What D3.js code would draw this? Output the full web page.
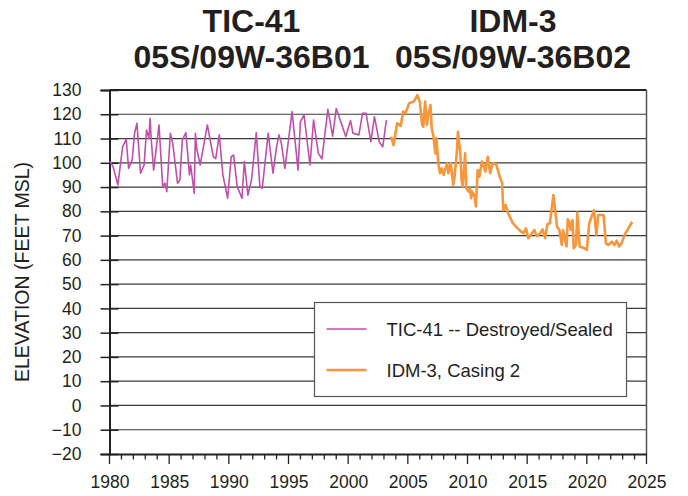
<!DOCTYPE html>
<html><head><meta charset="utf-8">
<script src="https://cdn.jsdelivr.net/npm/d3@7"></script>
<style>body{margin:0;background:#fff}svg{display:block}text{font-family:"Liberation Sans",Arial,sans-serif;fill:#231f20}</style>
</head><body><svg id="c" width="688" height="496"></svg>
<script>
const titles = [["TIC-41","05S/09W-36B01"],["IDM-3","05S/09W-36B02"]];
const seriesNames = ["TIC-41 -- Destroyed/Sealed","IDM-3, Casing 2"];
const seriesColors = ["#c04fa9","#f7963a"];
const yLabel = "ELEVATION (FEET MSL)";
const xTicks = [1980,1985,1990,1995,2000,2005,2010,2015,2020,2025];
const yTicks = d3.range(-20,131,10);

const ticYears = [1980.04,1980.3,1980.7,1981.1,1981.4,1981.6,1981.9,1982.1,1982.3,1982.6,1982.9,1983.1,1983.3,1983.4,1983.5,1983.7,1984.15,1984.46,1984.65,1984.8,1985.1,1985.3,1985.7,1985.9,1986.1,1986.4,1986.7,1986.8,1987.1,1987.2,1987.3,1987.6,1988.2,1988.7,1988.9,1989.2,1989.5,1989.9,1990.2,1990.4,1990.7,1991.1,1991.3,1991.6,1991.9,1992.3,1992.6,1992.8,1993.3,1993.7,1994.0,1994.2,1994.4,1994.7,1995.3,1995.8,1996.0,1996.3,1996.8,1997.1,1997.5,1997.8,1998.3,1998.7,1999.0,1999.8,2000.2,2000.4,2000.9,2001.2,2001.5,2001.9,2002.2,2002.6,2002.9,2003.2];
const ticValues = [100.5,98.4,90.9,106.6,109.7,97.7,101.2,112.2,116.3,95.7,99.1,113.5,110.1,118.3,109.4,97.0,115.6,90.2,91.6,88.1,112.2,108.0,91.6,92.9,109.4,112.4,95.0,99.1,87.4,112.2,106.0,99.1,115.6,102.5,101.7,111.5,95.0,85.4,102.5,103.2,90.2,85.4,100.5,86.7,92.9,112.5,90.2,89.5,112.2,95.7,106.6,111.5,108.0,97.7,121.1,97.0,117.0,119.7,99.1,117.6,103.9,101.6,122.0,111.0,122.4,110.8,117.4,112.2,111.5,120.4,120.4,108.7,119.0,108.7,106.6,117.6];

const idmYears = [2003.6,2003.8,2004.1,2004.4,2004.6,2004.8,2005.1,2005.5,2005.8,2006.0,2006.2,2006.3,2006.45,2006.6,2006.7,2006.9,2007.0,2007.15,2007.3,2007.4,2007.55,2007.7,2007.85,2008.0,2008.1,2008.3,2008.4,2008.6,2008.8,2008.9,2009.1,2009.2,2009.4,2009.5,2009.6,2009.8,2009.9,2010.1,2010.2,2010.3,2010.4,2010.6,2010.7,2010.85,2011.0,2011.2,2011.3,2011.5,2011.7,2011.9,2012.1,2012.4,2012.7,2012.9,2013.0,2013.2,2013.4,2013.6,2013.8,2014.1,2014.5,2014.7,2014.9,2015.1,2015.4,2015.6,2015.8,2016.1,2016.3,2016.5,2016.7,2016.9,2017.2,2017.5,2017.7,2017.9,2018.0,2018.1,2018.3,2018.4,2018.5,2018.65,2018.8,2018.9,2019.1,2019.2,2019.4,2019.8,2020.0,2020.2,2020.4,2020.6,2020.8,2020.95,2021.4,2021.6,2021.8,2022.1,2022.3,2022.5,2022.7,2022.9,2023.2,2023.4,2023.8];
const idmValues = [110.8,107.3,116.3,115.2,121.1,120.4,124.5,125.2,127.9,125.2,115.6,114.9,125.2,115.6,119.7,123.8,114.2,110.8,103.9,110.1,99.8,95.7,97.7,95.0,97.0,99.8,95.7,99.8,90.9,93.6,103.9,112.8,103.9,92.9,90.2,103.9,89.5,88.1,89.5,85.4,88.1,86.1,82.0,97.0,94.3,100.5,99.8,96.4,102.5,95.7,99.8,99.5,94.3,91.6,80.5,82.6,79.2,77.2,75.1,73.5,71.6,71.0,73.0,68.9,71.0,72.3,69.8,71.0,72.6,68.9,74.8,75.1,86.7,73.7,72.3,66.1,72.3,70.3,65.5,76.7,76.2,72.3,76.4,64.8,66.1,79.5,65.5,64.8,64.1,75.1,77.8,80.5,70.3,78.5,78.5,66.8,66.1,67.5,66.1,67.9,65.5,66.8,70.7,72.3,75.7];

const svg = d3.select("#c");
const L=109.5, R=646.5, T=90, B=454;
const x = d3.scaleLinear().domain([1980,2025]).range([L,R]);
const y = d3.scaleLinear().domain([-20,130]).range([B,T]);

// titles
const titleX = [251.5, 513];
titles.forEach((t,i)=>{
  t.forEach((s,j)=>{
    svg.append("text").attr("x",titleX[i]).attr("y",j===0?32:68)
      .attr("text-anchor","middle").style("font-size","32px").style("font-weight","bold").text(s);
  });
});

// gridlines
svg.append("g").selectAll("line").data(yTicks.filter(v=>v>-20)).join("line")
  .attr("x1",L).attr("x2",R).attr("y1",d=>y(d)).attr("y2",d=>y(d))
  .attr("stroke",d=>d===130?"#222":"#3a3a3a").attr("stroke-width",d=>d===130?2:1.2);
// right border
svg.append("line").attr("x1",R).attr("x2",R).attr("y1",T).attr("y2",B).attr("stroke","#555").attr("stroke-width",1.5);

// y axis
const yAxis = d3.axisLeft(y).tickValues(yTicks).tickSize(9).tickPadding(20).tickFormat(d3.format("d"));
const gy = svg.append("g").attr("transform",`translate(${L},0)`).call(yAxis);
gy.select(".domain").attr("stroke","#222").attr("stroke-width",2);
gy.selectAll(".tick line").attr("x2",9).attr("x1",-9).attr("stroke","#222").attr("stroke-width",1.5);
gy.selectAll(".tick text").style("font-size","17.5px").style("font-family","Liberation Sans, Arial, sans-serif").attr("fill","#231f20").attr("x",-28);

// x axis minor ticks
svg.append("g").selectAll("line").data(d3.range(1980,2026)).join("line")
  .attr("x1",d=>x(d)).attr("x2",d=>x(d)).attr("y1",B).attr("y2",d=>d%5===0?B+10:B+5.5)
  .attr("stroke","#222").attr("stroke-width",1.3);
const xAxis = d3.axisBottom(x).tickValues(xTicks).tickSize(0).tickPadding(22).tickFormat(d3.format("d"));
const gx = svg.append("g").attr("transform",`translate(0,${B})`).call(xAxis);
gx.select(".domain").attr("stroke","#222").attr("stroke-width",2);
gx.selectAll(".tick text").style("font-size","17.5px").style("font-family","Liberation Sans, Arial, sans-serif").attr("fill","#231f20");

// y label
svg.append("text").attr("transform","translate(29,272) rotate(-90)").attr("text-anchor","middle")
  .style("font-size","19.5px").text(yLabel);

// lines
const line = d3.line().x(d=>x(d[0])).y(d=>y(d[1]));
svg.append("path").datum(d3.zip(ticYears,ticValues)).attr("d",line).attr("fill","none")
  .attr("stroke",seriesColors[0]).attr("stroke-width",1.6).attr("stroke-linejoin","round");
svg.append("path").datum(d3.zip(idmYears,idmValues)).attr("d",line).attr("fill","none")
  .attr("stroke",seriesColors[1]).attr("stroke-width",2.6).attr("stroke-linejoin","round");

// legend
const lg = svg.append("g");
lg.append("rect").attr("x",314.5).attr("y",302.5).attr("width",312).attr("height",94)
  .attr("fill","#fff").attr("stroke","#555").attr("stroke-width",1.2);
seriesNames.forEach((n,i)=>{
  const ly = 329 + i*41;
  lg.append("line").attr("x1",326.5).attr("x2",366.5).attr("y1",ly).attr("y2",ly)
    .attr("stroke",seriesColors[i]).attr("stroke-width",i===0?1.6:2.6);
  lg.append("text").attr("x",386.5).attr("y",ly+6.5).style("font-size","18.5px").text(n);
});
</script></body></html>
